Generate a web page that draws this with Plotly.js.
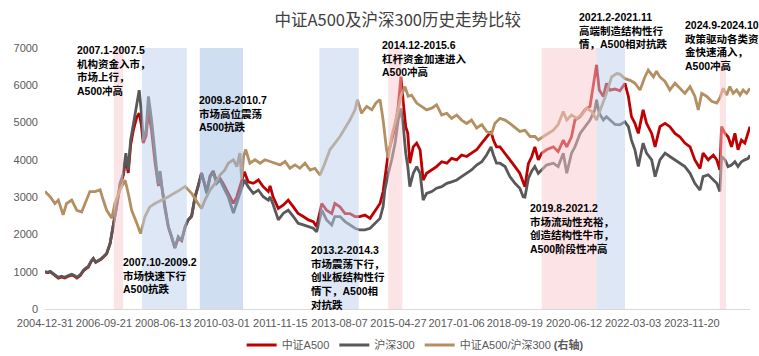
<!DOCTYPE html>
<html><head><meta charset="utf-8">
<script src="https://cdn.plot.ly/plotly-3.0.1.min.js"></script>
<style>html,body{margin:0;padding:0;background:#fff}#chart{width:759px;height:356px}</style>
</head><body><div id="chart"></div>
<script>
// time in decimal years
const idxYears = [2005.00,2005.08,2005.15,2005.24,2005.32,2005.39,2005.48,2005.58,2005.68,2005.78,2005.86,2005.93,2006.03,2006.12,2006.20,2006.26,2006.35,2006.41,2006.48,2006.56,2006.63,2006.70,2006.80,2006.90,2006.99,2007.09,2007.19,2007.29,2007.36,2007.43,2007.50,2007.58,2007.68,2007.75,2007.81,2007.87,2007.95,2008.02,2008.11,2008.21,2008.26,2008.31,2008.36,2008.41,2008.50,2008.60,2008.70,2008.79,2008.89,2008.99,2009.09,2009.18,2009.28,2009.38,2009.47,2009.57,2009.65,2009.72,2009.82,2009.91,2010.01,2010.11,2010.20,2010.35,2010.50,2010.60,2010.72,2010.82,2010.93,2011.08,2011.23,2011.37,2011.52,2011.57,2011.66,2011.81,2011.96,2012.10,2012.25,2012.39,2012.54,2012.69,2012.83,2012.93,2013.08,2013.22,2013.37,2013.46,2013.61,2013.76,2013.90,2014.05,2014.19,2014.34,2014.49,2014.63,2014.78,2014.87,2014.92,2015.02,2015.12,2015.22,2015.31,2015.39,2015.46,2015.53,2015.59,2015.65,2015.75,2015.85,2015.95,2016.04,2016.14,2016.29,2016.43,2016.58,2016.73,2016.87,2017.02,2017.16,2017.31,2017.45,2017.60,2017.75,2017.89,2018.02,2018.09,2018.18,2018.28,2018.43,2018.57,2018.72,2018.86,2018.96,2019.01,2019.11,2019.21,2019.30,2019.40,2019.50,2019.64,2019.84,2019.98,2020.13,2020.23,2020.37,2020.47,2020.62,2020.76,2020.91,2021.05,2021.10,2021.18,2021.30,2021.39,2021.49,2021.64,2021.78,2021.93,2022.03,2022.12,2022.22,2022.32,2022.46,2022.56,2022.71,2022.81,2022.95,2023.10,2023.24,2023.39,2023.53,2023.68,2023.83,2023.97,2024.12,2024.21,2024.36,2024.51,2024.61,2024.70,2024.75,2024.85,2024.94,2025.04,2025.14,2025.23,2025.33,2025.43,2025.53,2025.58];
const a500 = [1000,970,1000,940,880,830,860,830,880,910,880,830,900,1020,1080,1120,1280,1350,1250,1290,1330,1390,1480,1750,2200,2700,3300,3600,4050,3650,4400,4800,5150,5250,4950,4450,4650,5300,4800,3950,3650,3300,3600,3250,2700,2200,1930,1640,1900,1830,2200,2390,2500,3000,3300,3650,3380,3150,3570,3700,3420,3500,3370,3100,2830,3010,3370,3680,3410,3370,3460,3280,3150,3300,3000,2700,2790,2920,2740,2560,2480,2390,2345,2210,2830,2650,2560,2830,2740,2560,2560,2480,2480,2520,2430,2610,2830,3150,3500,4180,4530,4890,5430,6230,5520,4890,4710,3910,4350,4450,4270,3460,3640,3730,3820,3950,3910,4040,4000,4130,4090,4180,4270,4450,4620,4760,4530,4350,4350,4180,4000,3820,3640,3400,3280,3900,4090,4350,4000,4180,4270,4350,4220,4530,4350,4620,5070,5160,5340,5430,6300,6550,5870,5700,6050,5870,5900,5850,6050,5700,5160,4980,4710,5340,4980,4710,4350,4890,4980,4890,4710,4620,4450,4350,4000,3770,4180,4000,4130,4000,3730,4890,4710,4620,4350,4710,4270,4530,4450,4710,4890];
const hs300 = [1000,985,1010,950,900,850,880,850,900,930,900,850,920,1040,1100,1135,1290,1360,1260,1300,1340,1400,1490,1760,2210,2740,3370,3640,4180,3730,4530,4980,5430,5870,5300,4530,4800,5700,5070,4090,3730,3350,3700,3280,2740,2210,1940,1630,1940,1850,2210,2390,2480,3010,3280,3640,3370,3100,3550,3680,3370,3460,3280,3010,2570,2830,3190,3460,3280,3100,3190,3010,2920,3010,2800,2390,2570,2650,2480,2300,2255,2210,2165,2070,2650,2390,2255,2480,2480,2345,2255,2165,2120,2120,2165,2300,2430,2750,3190,3640,4000,4450,5070,5380,4890,4180,3820,3280,3640,3820,3640,2920,3100,3150,3240,3280,3370,3410,3460,3550,3640,3730,3860,3950,4130,4350,4130,3910,3910,3820,3550,3370,3240,3010,3000,3500,3700,3820,3640,3730,3860,3910,3820,4180,3640,4180,4350,4710,4890,5070,5340,5610,5250,5070,5160,5070,4950,4940,5020,4890,4530,4270,3820,4450,4180,4000,3550,4000,4180,4090,4000,3910,3820,3640,3370,3190,3550,3600,3460,3370,3150,4090,4000,3820,3860,3950,3820,3950,4000,4040,4130];
const ratioYears = [2005.00,2005.15,2005.29,2005.39,2005.53,2005.63,2005.78,2005.93,2006.07,2006.17,2006.31,2006.46,2006.61,2006.70,2006.80,2006.95,2007.04,2007.19,2007.34,2007.43,2007.53,2007.68,2007.79,2007.92,2008.06,2008.21,2008.34,2008.41,2008.60,2008.79,2008.94,2009.09,2009.28,2009.47,2009.57,2009.67,2009.82,2009.96,2010.11,2010.25,2010.35,2010.50,2010.60,2010.69,2010.74,2010.80,2010.86,2010.98,2011.13,2011.28,2011.42,2011.57,2011.71,2011.86,2012.01,2012.15,2012.30,2012.44,2012.59,2012.74,2012.88,2013.03,2013.17,2013.32,2013.46,2013.61,2013.76,2013.90,2014.05,2014.12,2014.24,2014.39,2014.54,2014.66,2014.78,2014.87,2014.97,2015.02,2015.12,2015.22,2015.31,2015.39,2015.51,2015.60,2015.70,2015.85,2016.00,2016.14,2016.29,2016.43,2016.58,2016.73,2016.87,2017.02,2017.16,2017.31,2017.45,2017.60,2017.75,2017.89,2018.04,2018.13,2018.28,2018.43,2018.57,2018.72,2018.86,2019.01,2019.16,2019.30,2019.40,2019.55,2019.69,2019.84,2019.98,2020.13,2020.23,2020.37,2020.52,2020.67,2020.81,2020.96,2021.10,2021.25,2021.39,2021.54,2021.69,2021.78,2021.93,2022.08,2022.22,2022.37,2022.51,2022.61,2022.76,2022.85,2022.95,2023.10,2023.24,2023.39,2023.53,2023.68,2023.83,2023.97,2024.07,2024.17,2024.31,2024.46,2024.61,2024.70,2024.80,2024.90,2024.99,2025.09,2025.19,2025.29,2025.38,2025.48,2025.58];
const ratio = [0.977,0.968,0.956,0.962,0.936,0.956,0.962,0.944,0.941,0.956,0.977,0.977,0.980,0.962,0.944,0.930,0.956,0.980,0.997,0.974,0.944,0.921,0.903,0.933,0.950,0.956,0.959,0.962,0.968,0.974,0.980,0.986,0.974,0.956,0.947,0.962,0.980,0.991,1.006,1.015,1.027,1.033,1.021,1.045,1.000,1.040,1.051,1.027,1.033,1.027,1.033,1.030,1.027,1.024,1.030,1.018,1.024,1.018,1.027,1.015,1.018,1.006,1.027,1.051,1.062,1.074,1.089,1.103,1.121,1.139,1.115,1.127,1.121,1.133,1.139,1.103,1.051,1.036,1.074,1.097,1.121,1.145,1.162,1.145,1.147,1.133,1.127,1.121,1.124,1.130,1.112,1.115,1.106,1.112,1.103,1.097,1.103,1.089,1.095,1.083,1.079,1.097,1.106,1.103,1.097,1.089,1.083,1.085,1.074,1.074,1.068,1.074,1.079,1.085,1.095,1.118,1.103,1.112,1.106,1.112,1.124,1.118,1.103,1.127,1.150,1.179,1.185,1.184,1.176,1.173,1.168,1.156,1.179,1.191,1.179,1.189,1.179,1.171,1.156,1.168,1.159,1.150,1.162,1.145,1.121,1.150,1.145,1.136,1.133,1.142,1.159,1.147,1.162,1.150,1.156,1.147,1.156,1.150,1.159];

const tickYears = [2005.0,2006.72,2008.448,2010.162,2011.871,2013.597,2015.318,2017.014,2018.715,2020.445,2022.167,2023.885];
const tickLabels = ['2004-12-31','2006-09-21','2008-06-13','2010-03-01','2011-11-15','2013-08-07','2015-04-27','2017-01-06','2018-09-19','2020-06-12','2022-03-03','2023-11-20'];

const seriesNames = ['中证A500','沪深300','中证A500/沪深300 <b>(右轴)</b>'];

// highlighted periods [start, end, kind]
const periodStart = [2007.01,2007.83,2009.52,2013.01,2015.02,2019.50,2021.10,2024.70];
const periodEnd   = [2007.28,2009.14,2010.78,2014.16,2015.43,2021.10,2021.93,2024.88];
const periodKind  = ['up','down','down2','down','up','up','down','up'];

const noteText = [
  '2007.1-2007.5<br>机构资金入市，<br>市场上行，<br>A500冲高',
  '2009.8-2010.7<br>市场高位震荡<br>A500抗跌',
  '2007.10-2009.2<br>市场快速下行<br>A500抗跌',
  '2013.2-2014.3<br>市场震荡下行，<br>创业板结构性行<br>情下，A500相<br>对抗跌',
  '2014.12-2015.6<br>杠杆资金加速进入<br>A500冲高',
  '2021.2-2021.11<br>高端制造结构性行<br>情，A500相对抗跌',
  '2024.9-2024.10<br>政策驱动各类资<br>金快速涌入，<br>A500冲高',
  '2019.8-2021.2<br>市场流动性充裕，<br>创造结构性牛市，<br>A500阶段性冲高'
];
const noteX = [0.042,0.216,0.108,0.375,0.475,0.755,0.905,0.685];
const noteY = [1.022,0.830,0.210,0.256,1.041,1.149,1.118,0.417];

const fills = {up:'rgba(249,199,204,0.5)', down:'rgba(187,208,235,0.5)', down2:'rgba(162,190,229,0.5)'};

const shapes = periodStart.map((s,i)=>({
  type:'rect', xref:'x', yref:'paper', x0:s, x1:periodEnd[i], y0:0, y1:1,
  fillcolor:fills[periodKind[i]], line:{width:0}, layer:'above'
}));

const annFont = {family:'Liberation Sans, Noto Sans CJK SC, sans-serif', size:10.5, color:'#000'};
const annotations = noteText.map((t,i)=>({
  text:'<b>'+t.split('<br>').join('</b><br><b>')+'</b>', xref:'paper', yref:'paper', x:noteX[i], y:noteY[i],
  xanchor:'left', yanchor:'top', align:'left', showarrow:false, font:annFont
}));

const traces = [
  {x:idxYears, y:a500, name:seriesNames[0], type:'scatter', mode:'lines', line:{color:'#C00000', width:2.8}},
  {x:idxYears, y:hs300, name:seriesNames[1], type:'scatter', mode:'lines', line:{color:'#595959', width:2.8}},
  {x:ratioYears, y:ratio, name:seriesNames[2], type:'scatter', mode:'lines', yaxis:'y2', line:{color:'#B48F62', width:2.8}}
];

const layout = {
  width:759, height:356,
  margin:{l:45, r:9, t:48, b:47, autoexpand:false},
  paper_bgcolor:'#fff', plot_bgcolor:'#fff',
  title:{text:'中证A500及沪深300历史走势比较', x:0.524, xanchor:'center', y:0.944, yanchor:'middle', yref:'container',
         font:{family:'Noto Sans CJK SC, sans-serif', size:16.5, color:'#404040'}},
  xaxis:{type:'linear', range:[2005.0,2025.58], tickvals:tickYears, ticktext:tickLabels, tickangle:0, showgrid:false, zeroline:false,
         showline:true, linecolor:'#d9d9d9', linewidth:1, ticks:'', ticklabelstandoff:4, automargin:false,
         tickfont:{family:'Liberation Sans, sans-serif', size:11, color:'#595959'}},
  yaxis:{range:[0,7000], dtick:1000, showgrid:false, zeroline:false, showline:false, ticks:'', ticklabelstandoff:6, automargin:false,
         tickfont:{family:'Liberation Sans, sans-serif', size:11, color:'#595959'}},
  yaxis2:{overlaying:'y', side:'right', range:[0.77,1.23], visible:false},
  showlegend:true,
  legend:{orientation:'h', x:0.525, xanchor:'center', y:-0.138, yanchor:'middle',
          font:{family:'Liberation Sans, Noto Sans CJK SC, sans-serif', size:11, color:'#595959'}},
  shapes:shapes, annotations:annotations
};

Plotly.newPlot('chart', traces, layout, {displayModeBar:false, staticPlot:true});
</script></body></html>
